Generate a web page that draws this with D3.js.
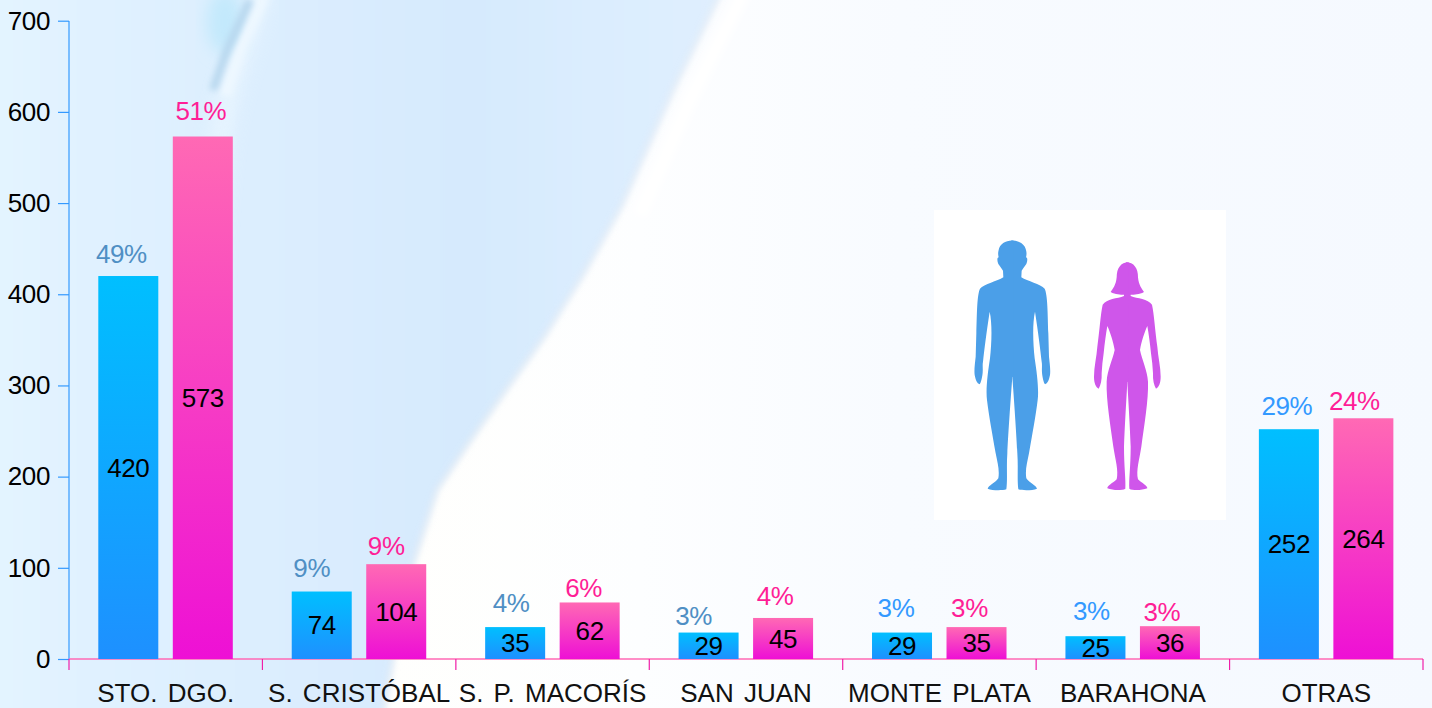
<!DOCTYPE html>
<html><head><meta charset="utf-8">
<script src="https://cdnjs.cloudflare.com/ajax/libs/d3/7.8.5/d3.min.js"></script>
<style>html,body{margin:0;padding:0;overflow:hidden;background:#fff}svg{display:block}text{font-family:"Liberation Sans",Arial,sans-serif}</style>
</head><body><svg id="c" width="1432" height="708"></svg>
<script>
const categories=["STO. DGO.","S. CRISTÓBAL","S. P. MACORÍS","SAN JUAN","MONTE PLATA","BARAHONA","OTRAS"];
const maleValues=[420,74,35,29,29,25,252];
const femaleValues=[573,104,62,45,35,36,264];
const malePct=["49%","9%","4%","3%","3%","3%","29%"];
const femalePct=["51%","9%","6%","4%","3%","3%","24%"];
const yTicks=[0,100,200,300,400,500,600,700];
const maleNudge=[[-7,-22],[-10,-24],[-4,-24],[-15,-17],[-6,-25],[-4,-25],[-2,-23]];
const femaleNudge=[[-2,-26],[-10,-18],[-6,-15],[-8,-22],[-7,-19],[-8,-14],[-9,-17]];
const malePctColors=["#4f8fc4","#4f8fc4","#4f8fc4","#4f8fc4","#3399ff","#3399ff","#3399ff"];
const femaleColor="#ff1e96";

const svg=d3.select("#c");
const defs=svg.append("defs");
function lg(id,a,b){const g=defs.append("linearGradient").attr("id",id).attr("x1",0).attr("y1",0).attr("x2",0).attr("y2",1);
 g.append("stop").attr("offset",0).attr("stop-color",a);g.append("stop").attr("offset",1).attr("stop-color",b);}
lg("mb","#00bfff","#1e90ff");lg("fb","#ff69b4","#ee10d5");
function hg(id,stops){const g=defs.append("linearGradient").attr("id",id).attr("gradientUnits","userSpaceOnUse").attr("x1",0).attr("y1",0).attr("x2",1432).attr("y2",0);
 stops.forEach(s=>g.append("stop").attr("offset",s[0]/1432).attr("stop-color",s[1]));}
hg("bgBlue",[[0,"#e3f4ff"],[70,"#e1f2ff"],[230,"#ddeffe"],[330,"#daecfe"],[470,"#d6eafd"],[600,"#dbedfe"],[730,"#e0effe"]]);
hg("bgWhite",[[380,"#fffffd"],[640,"#fdfeff"],[900,"#f8fbff"],[1432,"#f5f9ff"]]);
function blur(id,s){defs.append("filter").attr("id",id).attr("x","-30%").attr("y","-30%").attr("width","160%").attr("height","160%").append("feGaussianBlur").attr("stdDeviation",s);}
blur("b1",1.5);blur("b3",3);blur("b8",8);

// background wash
const bg=svg.append("g");
bg.append("rect").attr("width",1432).attr("height",708).attr("fill","url(#bgWhite)");
const edge="M722 -10L674 88L621 207L583 275L544 337L506 390L468 444L437 490L405 590L392 665L382 720";
bg.append("path").attr("d",edge+"H-20V-10Z").attr("fill","url(#bgBlue)").attr("filter","url(#b3)");
bg.append("path").attr("d",edge).attr("fill","none").attr("stroke","#d6e0ec").attr("stroke-width",4).attr("opacity",.5).attr("filter","url(#b3)");
bg.append("path").attr("d","M745 -10L690 100L640 215").attr("fill","none").attr("stroke","#ffffff").attr("stroke-width",14).attr("filter","url(#b3)");
// pale streak and blue wisp at top of the wash
bg.append("path").attr("d","M262 -10C250 30 238 60 228 100C218 140 212 200 208 300").attr("fill","none").attr("stroke","#eaf6ff").attr("stroke-width",22).attr("opacity",.7).attr("filter","url(#b8)");
bg.append("ellipse").attr("cx",225).attr("cy",22).attr("rx",18).attr("ry",32).attr("fill","#c3e9fc").attr("filter","url(#b8)");
bg.append("path").attr("d","M264 -5L240 50L225 95").attr("stroke","#eef8ff").attr("stroke-width",12).attr("fill","none").attr("filter","url(#b3)");
bg.append("path").attr("d","M250 0L227 50L213 90").attr("stroke","#b7d7ee").attr("stroke-width",8).attr("fill","none").attr("filter","url(#b3)");

const x0=d3.scaleBand().domain(categories).range([69,1423]);
const y=d3.scaleLinear().domain([0,700]).range([659,20.7]);
const barW=60,off1=29.3,off2=103.8;

const rows=categories.map((c,i)=>({c,i}));
// axes
const yAxis=svg.append("g").attr("transform","translate(69,0)").call(d3.axisLeft(y).tickValues(yTicks).tickSize(11).tickPadding(8).tickFormat(d3.format("d")));
yAxis.select(".domain").attr("stroke","#3399ff").attr("stroke-width",1.2).attr("d","M0 21V659");
yAxis.selectAll(".tick line").attr("stroke","#3399ff").attr("stroke-width",1.2);
yAxis.selectAll("text").attr("font-size",26).attr("fill","#000").style("letter-spacing","-0.4px").attr("font-family","Liberation Sans");
const xAxis=svg.append("g").attr("transform","translate(0,659)").call(d3.axisBottom(x0).tickSize(11).tickPadding(14).tickSizeOuter(0));
const bw=x0.bandwidth();
xAxis.select(".domain").attr("stroke","#ff69b4").attr("stroke-width",1.4).attr("d","M69 0H1423");
xAxis.selectAll(".tick line").attr("stroke","#f01ea8").attr("x1",-bw/2).attr("x2",-bw/2).attr("stroke-width",1.2);
xAxis.selectAll("text").attr("font-size",26).attr("fill","#111").attr("font-family","Liberation Sans").style("word-spacing","3px");
svg.append("line").attr("x1",x0.range()[1]).attr("x2",x0.range()[1]).attr("y1",659).attr("y2",670).attr("stroke","#f01ea8").attr("stroke-width",1.2);

const gBars=svg.append("g");
function series(vals,fill,off){
 gBars.selectAll(null).data(rows).join("rect")
  .attr("x",d=>x0(d.c)+off).attr("y",d=>y(vals[d.i])).attr("width",barW)
  .attr("height",d=>y(0)-y(vals[d.i])).attr("fill",`url(#${fill})`);
}
series(maleValues,"mb",off1);series(femaleValues,"fb",off2);

// value labels
function labels(vals,pct,nudge,off,pctColor){
 const g=svg.append("g").attr("font-size",26).attr("text-anchor","middle").style("letter-spacing","-0.4px");
 g.selectAll(null).data(rows).join("text")
  .attr("x",d=>x0(d.c)+off+barW/2).attr("y",d=>(y(vals[d.i])+y(0))/2).attr("dy","0.35em").attr("fill","#000").text(d=>vals[d.i]);
 g.selectAll(null).data(rows).join("text")
  .attr("x",d=>x0(d.c)+off+barW/2+nudge[d.i][0]).attr("y",d=>y(vals[d.i])+nudge[d.i][1]).attr("dy","0.35em")
  .attr("fill",d=>typeof pctColor==="string"?pctColor:pctColor[d.i]).text(d=>pct[d.i]);
}
labels(maleValues,malePct,maleNudge,off1,malePctColors);
labels(femaleValues,femalePct,femaleNudge,off2,femaleColor);

// silhouette picture
const pic=svg.append("g").attr("transform","translate(920,200) scale(0.33333)");
pic.append("rect").attr("x",42).attr("y",30).attr("width",876).attr("height",930).attr("fill","#fff");
const manHalf="M-4 122C18 120 38 132 41 150C44 160 42 168 41 172C46 172 46 182 42 192C38 198 32 206 28 212L27 232C45 244 85 252 97 266C106 284 106 340 108 400L110 470C112 490 115 510 113 525C110 540 106 550 98 553C94 548 90 530 89 518C88 505 90 495 88 485C84 450 78 400 68 335C60 370 62 430 67 475C74 520 80 570 76 600C70 650 60 700 50 760C44 790 38 810 42 835C52 850 72 856 74 866C60 872 30 872 18 868C14 840 18 800 15 760C12 700 8 640 0 530L-4 530Z";
const womanHalf="M-4 187C20 187 32 205 32 232C34 255 44 268 50 276C36 284 20 284 10 284L10 288C30 296 62 296 74 314C80 340 84 400 90 440C92 470 100 500 100 530C100 550 94 562 86 566C80 556 76 540 77 520C76 500 74 480 71 460C68 430 64 400 60 378C52 395 42 425 38 450C44 480 60 510 62 545C64 600 50 680 42 740C36 780 26 810 32 838C44 850 60 856 60 865C42 872 16 872 6 866C4 840 10 800 10 740C8 680 4 620 0 545L-4 545Z";
[[277,manHalf,"#4b9fe8"],[622,womanHalf,"#cf56ea"]].forEach(([cx,d,fill])=>{
 [1,-1].forEach(s=>pic.append("path").attr("d",d).attr("fill",fill).attr("transform",`translate(${cx},0) scale(${s},1)`));
});
</script></body></html>
